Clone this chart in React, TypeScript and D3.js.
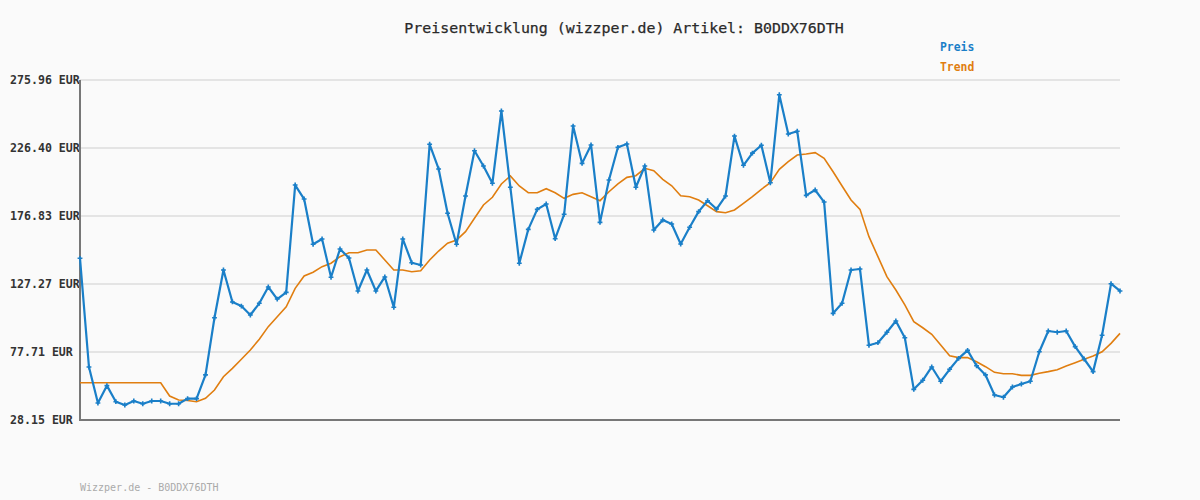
import React from "react";
import * as d3 from "d3";

const title = "Preisentwicklung (wizzper.de) Artikel: B0DDX76DTH";
const footer = "Wizzper.de - B0DDX76DTH";
const seriesNames = ["Preis", "Trend"];
const yTicks = [28.15, 77.71, 127.27, 176.83, 226.4, 275.96];

const preis = [
  146.0, 66.8, 40.5, 53.2, 41.5, 39.1, 42.0, 40.0, 42.0, 42.0,
  40.0, 40.0, 43.7, 43.7, 61.0, 102.7, 137.5, 114.2, 111.2, 104.7,
  113.2, 125.1, 116.3, 121.2, 199.4, 189.2, 156.2, 160.1, 132.2, 152.8,
  146.2, 122.2, 137.5, 122.2, 132.4, 110.3, 160.1, 142.8, 141.1, 229.1,
  211.1, 178.8, 156.2, 191.4, 224.4, 213.3, 200.7, 253.4, 197.8, 142.4,
  167.1, 181.7, 185.6, 160.3, 178.1, 242.4, 215.2, 228.6, 172.2, 203.1,
  226.9, 229.3, 197.8, 213.3, 166.6, 173.9, 171.0, 156.4, 168.6, 180.0,
  188.0, 181.9, 191.4, 235.1, 213.8, 222.7, 228.4, 201.1, 265.2, 236.6,
  238.6, 191.9, 195.8, 187.0, 105.9, 113.2, 137.5, 138.2, 82.6, 84.5,
  92.1, 100.3, 88.1, 50.5, 57.1, 66.8, 56.4, 65.1, 73.1, 78.9,
  67.7, 61.0, 46.4, 44.7, 52.2, 54.4, 56.4, 77.9, 93.0, 92.1,
  93.0, 81.6, 72.6, 63.4, 89.9, 127.5, 122.2,
];

const trend = [
  55.3, 55.3, 55.3, 55.3, 55.3, 55.3, 55.3, 55.3, 55.3, 55.3,
  45.6, 42.7, 42.4, 41.5, 44.0, 50.0, 59.7, 65.8, 72.4, 79.2,
  87.0, 96.2, 103.4, 110.7, 124.1, 133.1, 135.8, 139.9, 142.4, 147.2,
  150.1, 150.1, 152.1, 152.1, 144.8, 137.5, 137.5, 136.2, 136.9, 144.8,
  151.3, 157.0, 159.3, 165.4, 175.2, 184.9, 190.5, 200.2, 206.0, 198.7,
  193.8, 193.8, 196.7, 193.8, 189.7, 192.6, 193.8, 190.9, 188.0, 194.5,
  200.2, 205.0, 206.2, 211.6, 209.9, 203.6, 198.9, 191.6, 190.9, 188.5,
  184.3, 180.0, 179.2, 181.2, 186.1, 190.9, 196.3, 201.1, 210.9, 216.4,
  221.3, 222.0, 223.0, 218.9, 209.1, 198.7, 188.5, 181.7, 161.8, 147.2,
  132.6, 122.9, 112.0, 99.8, 95.4, 90.6, 82.8, 75.0, 73.6, 73.6,
  70.6, 67.0, 62.9, 61.9, 61.9, 60.7, 60.7, 62.2, 63.4, 64.8,
  67.5, 69.9, 72.4, 74.8, 77.9, 84.0, 91.3,
];

const W = 1200;
const H = 500;
const left = 80;
const right = 1120;
const top = 80;
const bottom = 420;
const blue = "#1a7fc8";
const orange = "#e07e10";
const mono = "'DejaVu Sans Mono', 'Liberation Mono', monospace";

export default function App() {
  const x = d3.scaleLinear().domain([0, preis.length - 1]).range([left, right]);
  const y = d3.scaleLinear().domain([yTicks[0], yTicks[yTicks.length - 1]]).range([bottom, top]);
  const line = d3
    .line<number>()
    .x((_, i) => x(i))
    .y((d) => y(d));
  const cross = d3.symbol().type(d3.symbolCross).size(13);

  return (
    <svg
      width={W}
      height={H}
      style={{ position: "absolute", left: 0, top: 0, display: "block", background: "#fafafa" }}
    >
      <rect x={0} y={0} width={W} height={H} fill="#fafafa" />
      <text x={624} y={33} textAnchor="middle" fontFamily={mono} fontSize={14.9} fill="#2a2a2a" stroke="#2a2a2a" strokeWidth={0.25}>
        {title}
      </text>
      <text x={940} y={51} fontFamily={mono} fontSize={11.4} fontWeight="bold" fill={blue}>
        {seriesNames[0]}
      </text>
      <text x={940} y={71} fontFamily={mono} fontSize={11.4} fontWeight="bold" fill={orange}>
        {seriesNames[1]}
      </text>
      {yTicks.map((t) => (
        <g key={t}>
          <line x1={left} x2={right} y1={y(t)} y2={y(t)} stroke="#e4e4e4" strokeWidth={2} />
          <text
            x={10}
            y={y(t) + 4}
            fontFamily={mono}
            fontSize={11.6}
            fontWeight="bold"
            fill="#333"
          >
            {`${t.toFixed(2)} EUR`}
          </text>
        </g>
      ))}
      <line x1={left} x2={left} y1={top} y2={bottom + 1} stroke="#777" strokeWidth={2} />
      <line x1={left - 1} x2={right} y1={bottom} y2={bottom} stroke="#777" strokeWidth={2} />
      <path d={line(trend) || ""} fill="none" stroke={orange} strokeWidth={1.6} />
      <path d={line(preis) || ""} fill="none" stroke={blue} strokeWidth={2.2} strokeLinejoin="round" />
      {preis.map((v, i) => (
        <path key={i} d={cross() || ""} transform={`translate(${x(i)},${y(v)})`} fill={blue} />
      ))}
      <text x={80} y={491} fontFamily={mono} fontSize={10} fill="#aaa">
        {footer}
      </text>
    </svg>
  );
}
